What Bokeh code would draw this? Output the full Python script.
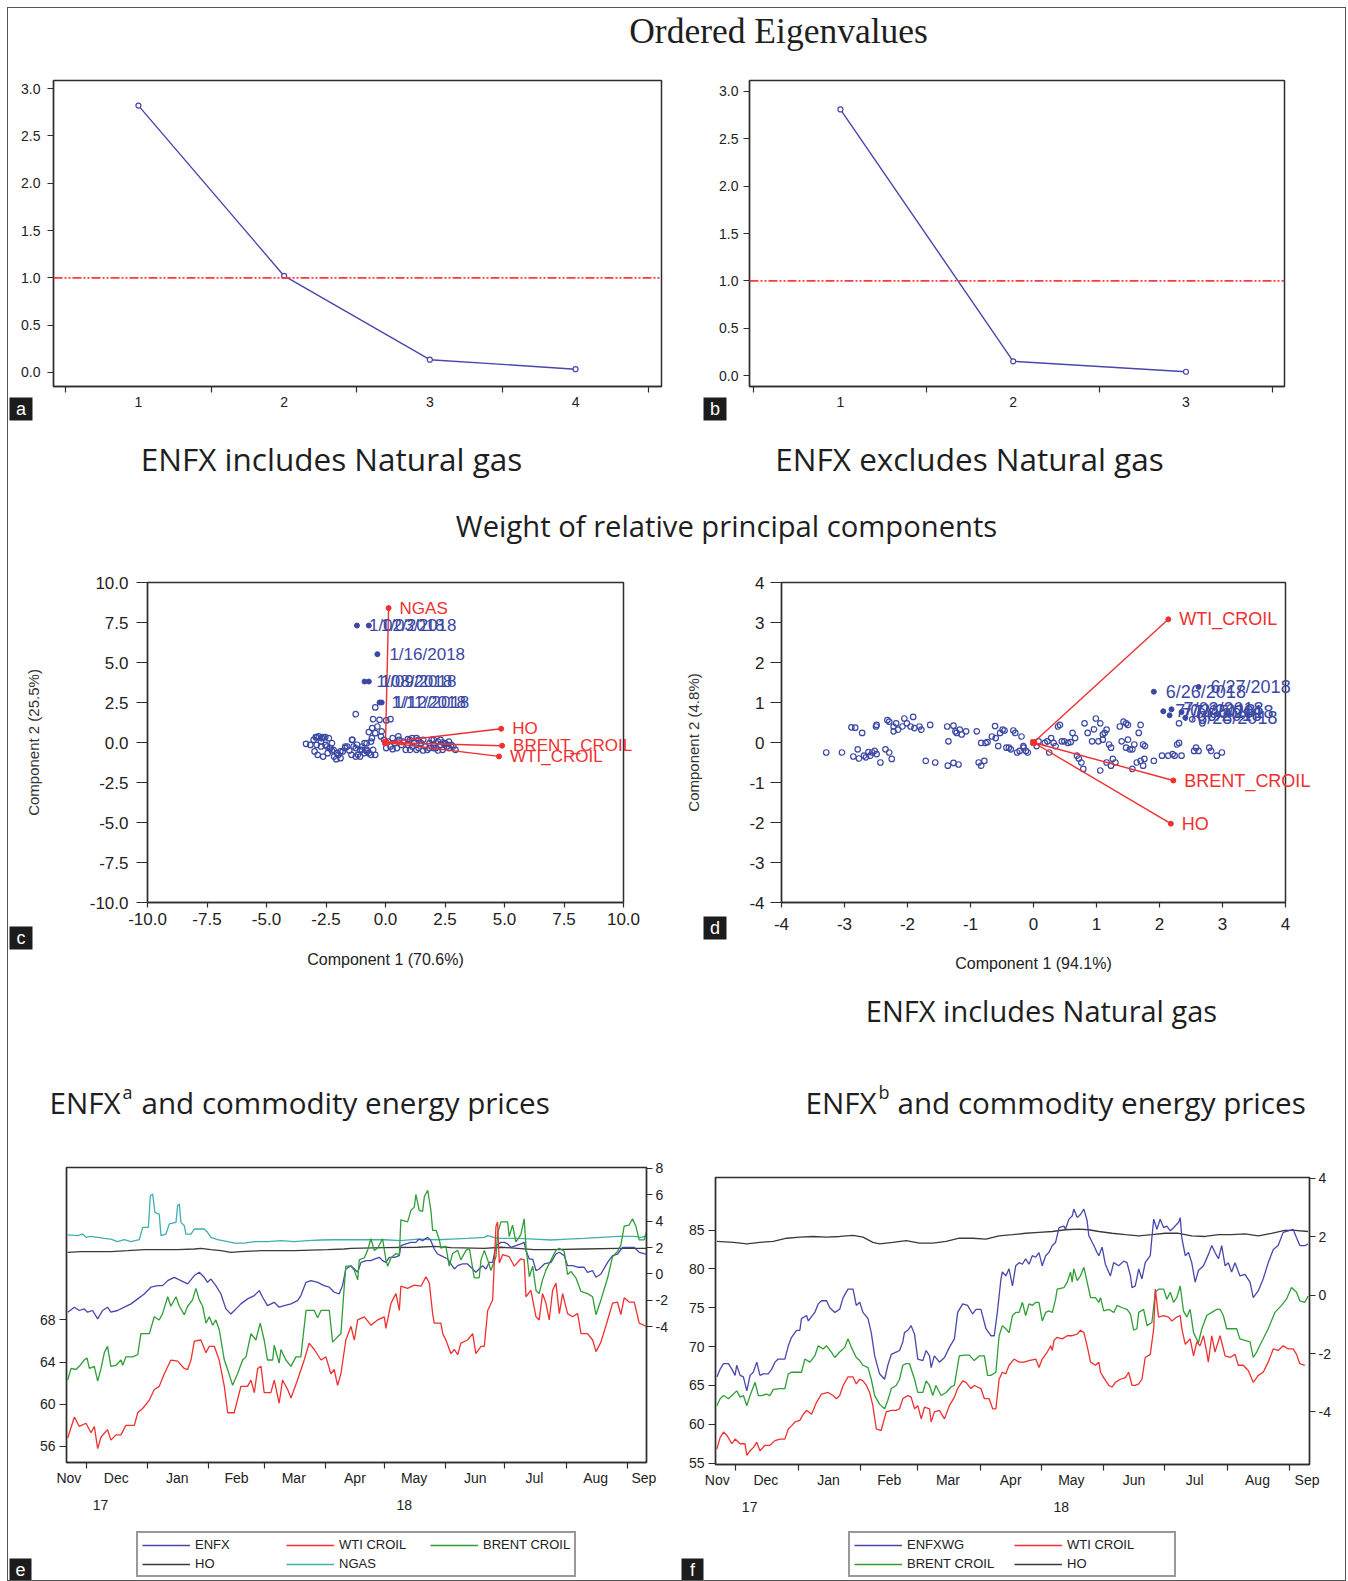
from bokeh.plotting import figure
from bokeh.layouts import column, row
from bokeh.models import (Range1d, LinearAxis, FixedTicker, ColumnDataSource,
                          Legend, LegendItem, Span, NumeralTickFormatter, Spacer)
from bokeh.embed import file_html
from bokeh.resources import INLINE
from bokeh.core.properties import value

FONT = "Liberation Sans"
HEAD_FONT = "Open Sans"
TITLE_FONT = "Liberation Serif"
INK = "#2e2e2e"
LINE_BLUE = "#4747ad"
SCAT_BLUE = "#3b48a3"
RED = "#f03030"
GREEN = "#2f9e36"
CYAN = "#3fb0ad"
BLACK = "#3a3a3a"
NAN = float("nan")

# ------------------------------------------------------------------ data
EIG_INCL_N = [1, 2, 3, 4]
EIG_INCL = [2.82, 1.02, 0.135, 0.035]
EIG_EXCL_N = [1, 2, 3]
EIG_EXCL = [2.81, 0.15, 0.04]
EIG_CUTOFF = 1.0
EIG_TICKS = [0.0, 0.5, 1.0, 1.5, 2.0, 2.5, 3.0]

C_VARS = ["NGAS", "HO", "BRENT_CROIL", "WTI_CROIL"]
C_LOAD_X = [0.13, 4.86, 4.90, 4.77]
C_LOAD_Y = [8.40, 0.86, -0.20, -0.87]
C_SCORES = [
    (-3.34, -0.08), (-3.16, -0.15), (-2.93, 0.33), (-2.80, 0.38), (-2.62, 0.33), (-2.38, 0.27),
    (-2.89, -0.15), (-2.71, -0.25), (-2.52, -0.15), (-2.34, -0.35), (-2.85, -0.77), (-2.62, -0.88),
    (-2.43, -0.67), (-2.25, -0.50), (-2.16, -0.88), (-2.07, -1.04), (-1.98, -0.77), (-2.71, 0.06),
    (-2.98, -0.56), (-2.25, -0.04), (-1.80, -0.56), (-1.70, -0.35), (-1.61, -0.25), (-1.52, -0.50),
    (-1.43, -0.77), (-1.34, -0.25), (-1.25, -0.35), (-1.16, -0.77), (-1.39, 0.17), (-1.07, -0.46),
    (-0.98, -0.25), (-0.88, -0.04), (-0.79, -0.46), (-0.70, -0.67), (-0.61, -0.77), (-0.52, -0.46),
    (-0.43, -0.77), (-0.88, -0.67), (-0.61, 0.06), (-0.79, -0.04), (-1.07, -0.88), (-1.25, -0.88),
    (-1.89, -0.98), (-3.02, 0.17), (-2.88, 0.34), (-2.67, 0.27), (-2.53, 0.34), (-2.46, -0.25),
    (-2.32, -0.35), (-2.18, -0.46), (-2.04, -0.66), (-1.90, -0.56), (-1.69, -0.25), (-1.41, 0.17),
    (-1.20, -0.14), (-0.99, -0.46), (-0.78, -0.56), (-0.57, 0.27),
    (-1.25, 1.77), (-0.43, 2.19), (-0.52, 1.46), (-0.25, 1.42), (0.03, 1.38), (0.21, 1.46),
    (-0.56, 0.90), (-0.43, 0.58), (-0.70, 0.65), (-0.34, 1.00), (-0.19, 0.38), (-0.16, 0.69),
    (-0.06, 0.17),
    (0.12, 0.06), (0.21, -0.25), (0.30, 0.27), (0.39, -0.04), (0.48, -0.35), (0.57, 0.17),
    (0.67, -0.15), (0.76, 0.06), (0.85, -0.46), (0.94, -0.15), (1.03, 0.17), (1.12, -0.25),
    (1.21, 0.00), (1.30, 0.27), (1.39, -0.35), (1.49, -0.04), (1.58, 0.17), (1.67, -0.25),
    (1.76, -0.46), (1.85, -0.04), (1.94, 0.17), (2.03, -0.15), (2.12, -0.35), (2.21, 0.06),
    (2.31, -0.15), (2.40, -0.46), (2.49, -0.04), (2.58, -0.25), (2.67, 0.06), (2.76, -0.15),
    (2.85, -0.25), (2.94, -0.46), (0.54, 0.38), (0.94, 0.21), (2.03, 0.17), (1.30, -0.46),
    (1.58, -0.50), (2.21, -0.50), (1.85, -0.35), (0.30, -0.42), (1.03, -0.46), (2.40, 0.00),
    (2.67, -0.35), (2.54, -0.08), (0.03, -0.35), (1.39, 0.17), (1.12, 0.27), (2.03, -0.35),
    (2.31, 0.17),
]
C_OUTLIERS = [
    (-1.20, 7.31, "1/02/2018"), (-0.70, 7.31, "1/03/2018"), (-0.34, 5.52, "1/16/2018"),
    (-0.88, 3.81, "1/08/2018"), (-0.70, 3.81, "1/09/2018"), (-0.25, 2.50, "1/11/2018"),
    (-0.16, 2.50, "1/12/2018"),
]

D_VARS = ["WTI_CROIL", "BRENT_CROIL", "HO"]
D_LOAD_X = [2.14, 2.22, 2.18]
D_LOAD_Y = [3.08, -0.95, -2.03]
D_SCORES = [
    (-3.29, -0.25), (-3.04, -0.25), (-2.89, 0.38), (-2.83, 0.37), (-2.86, -0.35), (-2.77, -0.40),
    (-2.72, 0.24), (-2.79, -0.17), (-2.62, -0.24), (-2.59, -0.33), (-2.56, -0.25), (-2.52, -0.21),
    (-2.49, -0.29), (-2.66, -0.37), (-2.69, -0.33), (-2.50, 0.40), (-2.49, 0.44), (-2.35, -0.17),
    (-2.29, -0.25), (-2.25, -0.41), (-2.43, -0.50), (-2.32, 0.56), (-2.29, 0.52), (-2.22, 0.40),
    (-2.18, 0.48), (-2.15, 0.32), (-2.08, 0.40), (-2.05, 0.60), (-2.01, 0.48), (-1.95, 0.40),
    (-1.91, 0.64), (-2.22, 0.28), (-1.89, 0.36), (-1.81, 0.40), (-1.78, 0.32), (-1.64, 0.44),
    (-1.71, -0.46), (-1.56, -0.50), (-1.37, 0.40), (-1.35, 0.03), (-1.27, 0.42), (-1.24, 0.28),
    (-1.22, 0.24), (-1.17, 0.32), (-1.14, 0.20), (-1.07, 0.28), (-1.36, -0.58), (-1.27, -0.51),
    (-1.19, -0.55), (-0.90, 0.28), (-0.87, -0.50), (-0.83, -0.58), (-0.78, -0.46), (-0.76, -0.01),
    (-0.83, -0.01), (-0.73, 0.01), (-0.66, 0.15), (-0.60, 0.11), (-0.61, 0.41), (-0.56, -0.09),
    (-0.53, 0.24), (-0.49, 0.32), (-0.46, 0.30), (-0.43, -0.13), (-0.39, -0.13), (-0.36, -0.17),
    (-0.32, 0.30), (-0.29, 0.24), (-0.26, -0.25), (-0.22, -0.21), (-0.19, 0.15), (-0.16, -0.13),
    (-0.12, -0.21), (-0.09, -0.25), (-0.16, -0.09),
    (0.05, -0.09), (0.08, 0.03), (0.18, -0.01), (0.22, 0.03), (0.25, -0.25), (0.28, 0.11),
    (0.32, -0.01), (0.35, -0.09), (0.39, 0.40), (0.42, 0.44), (0.45, 0.03), (0.49, 0.03),
    (0.55, -0.01), (0.59, 0.01), (0.62, 0.24), (0.66, 0.11), (0.69, -0.33), (0.72, -0.40),
    (0.76, -0.50), (0.79, -0.66), (0.81, 0.48), (0.86, 0.24), (0.93, 0.03), (0.96, 0.33),
    (0.99, 0.60), (1.03, 0.03), (1.06, 0.48), (1.10, 0.20), (1.13, 0.24), (1.10, 0.07),
    (1.16, 0.32), (1.20, -0.05), (1.23, -0.13), (1.16, -0.50), (1.23, -0.58), (1.06, -0.70),
    (1.26, -0.41), (1.30, -0.50), (1.37, 0.40), (1.40, 0.03), (1.43, 0.52), (1.47, -0.13),
    (1.50, 0.07), (1.53, -0.17), (1.57, -0.17), (1.60, -0.05), (1.67, 0.24), (1.70, 0.44),
    (1.74, -0.05), (1.77, -0.09), (1.57, -0.66), (1.64, -0.50), (1.70, -0.46), (1.76, -0.41),
    (1.74, -0.58), (1.47, 0.48), (1.50, 0.44), (1.91, -0.46), (2.04, -0.33), (2.14, -0.33),
    (2.21, -0.29), (2.24, -0.33), (2.28, -0.05), (2.31, -0.01), (2.35, -0.33), (2.31, 0.48),
    (2.55, -0.21), (2.58, -0.13), (2.62, -0.21), (2.68, 0.48), (2.79, -0.13), (2.82, -0.21),
    (2.91, -0.33), (2.99, -0.25), (2.52, 0.58),
]
D_OUTLIERS = [
    (1.91, 1.27, "6/26/2018"), (2.62, 1.39, "6/27/2018"), (2.06, 0.78, "7/02/2018"),
    (2.19, 0.83, "7/03/2018"), (2.35, 0.76, "7/05/2018"), (2.16, 0.68, "7/06/2018"),
    (2.41, 0.62, "6/28/2018"),
]

# time axis: days since 2017-11-21
MONTHS = ["Nov", "Dec", "Jan", "Feb", "Mar", "Apr", "May", "Jun", "Jul", "Aug", "Sep"]
MONTH_LABEL_DAY = [1, 25, 56, 86, 115, 146, 176, 207, 237, 268, 292.5]
MONTH_START_DAY = [10, 41, 72, 100, 131, 161, 192, 222, 253, 284]
YEARS = ["17", "18"]
YEAR_LABEL_DAY = [17, 171]

E_WTI = [(0.4, 56.8), (3.8, 58.8), (6.3, 57.9), (9.7, 58.2), (12.2, 57.3), (13.9, 57.9), (15.6, 55.8),
         (17.3, 56.9), (20.6, 57.6), (22.3, 56.6), (24.9, 57.1), (27.4, 57.1), (29.9, 58.0), (34.2, 58.0),
         (35.9, 59.2), (38.4, 59.6), (41.8, 60.4), (44.3, 61.4), (46.8, 61.7), (49.4, 62.9), (52.7, 64.2),
         (56.1, 64.1), (59.5, 63.4), (61.2, 63.3), (62.9, 64.2), (64.6, 66.0), (67.9, 66.1), (70.5, 64.9),
         (72.2, 65.5), (74.7, 65.5), (77.2, 64.2), (79.8, 61.7), (81.5, 59.2), (84.8, 59.2), (88.2, 61.7),
         (91.6, 61.7), (93.3, 62.3), (95.0, 61.1), (96.7, 63.4), (98.4, 63.6), (100.0, 61.1), (103.4, 61.1),
         (105.1, 62.3), (107.6, 60.1), (109.3, 62.3), (111.9, 61.4), (113.6, 60.6), (116.9, 62.3),
         (120.3, 64.2), (122.8, 65.8), (125.4, 65.2), (128.8, 64.2), (131.3, 64.5), (133.8, 62.9),
         (135.5, 63.3), (137.2, 61.8), (138.9, 62.9), (141.4, 66.1), (144.0, 67.4), (145.7, 66.1),
         (147.4, 68.0), (150.8, 68.3), (154.1, 67.5), (157.5, 68.0), (160.9, 68.3), (161.7, 67.2),
         (164.3, 69.6), (166.8, 70.5), (168.5, 68.9), (169.3, 71.2), (172.7, 71.0), (176.1, 71.3),
         (179.5, 71.2), (182.0, 72.1), (183.7, 71.5), (185.4, 68.6), (186.2, 67.7), (189.6, 67.7),
         (190.5, 66.7), (192.1, 66.1), (194.7, 64.8), (196.4, 65.2), (198.1, 64.7), (199.7, 65.8),
         (203.1, 66.1), (205.7, 66.7), (207.3, 64.8), (209.9, 65.5), (211.6, 65.5), (213.3, 68.9),
         (215.8, 69.9), (217.5, 76.9), (218.3, 77.3), (219.2, 73.4), (220.9, 74.2), (224.2, 74.0),
         (226.8, 73.1), (230.1, 73.8), (231.8, 73.7), (232.7, 70.2), (235.2, 70.8), (237.8, 68.3),
         (239.4, 68.0), (241.1, 70.5), (242.8, 69.6), (244.5, 68.0), (246.2, 70.8), (247.9, 71.5),
         (249.6, 68.6), (251.3, 70.5), (253.8, 68.6), (256.3, 68.3), (258.9, 68.6), (260.6, 66.7),
         (263.9, 66.7), (266.5, 66.1), (268.2, 65.0), (270.7, 65.9), (274.1, 68.0), (276.6, 69.6),
         (279.1, 69.7), (280.8, 68.5), (282.5, 70.1), (285.0, 69.7), (287.6, 69.7), (290.1, 67.7),
         (293.5, 67.4)]
E_BRENT = [(0.4, 62.3), (2.1, 63.4), (4.6, 63.3), (6.3, 63.6), (8.8, 64.2), (10.2, 64.4), (11.4, 63.4),
           (13.9, 63.6), (15.6, 62.2), (17.3, 63.4), (19.0, 64.9), (20.6, 65.5), (22.3, 63.6), (24.9, 63.7),
           (27.4, 64.2), (28.3, 63.7), (29.9, 64.5), (33.3, 64.5), (35.9, 64.7), (37.5, 66.7), (41.8, 66.7),
           (44.3, 68.3), (46.8, 68.0), (48.5, 68.6), (51.1, 70.2), (52.7, 69.3), (55.3, 70.2), (57.0, 69.3),
           (59.5, 68.5), (61.2, 69.3), (63.7, 69.9), (65.4, 71.0), (67.1, 69.9), (68.8, 69.3), (70.5, 67.7),
           (72.2, 68.3), (73.9, 67.5), (75.5, 68.0), (77.2, 67.1), (79.8, 64.2), (81.5, 63.3), (84.0, 61.8),
           (86.5, 62.9), (89.1, 64.2), (90.8, 64.5), (93.3, 66.7), (95.8, 66.1), (98.0, 67.7), (100.0, 66.1),
           (101.7, 64.2), (104.3, 64.2), (105.1, 65.6), (107.6, 63.9), (108.5, 65.2), (111.0, 64.2),
           (113.6, 63.6), (116.1, 64.5), (118.6, 64.5), (121.2, 68.9), (125.4, 68.9), (127.1, 68.2),
           (128.8, 68.9), (133.0, 68.9), (134.7, 65.9), (137.2, 66.4), (138.9, 66.7), (140.6, 71.2),
           (141.4, 73.1), (144.0, 73.1), (145.7, 72.7), (147.4, 71.8), (148.2, 73.7), (150.8, 73.9),
           (152.4, 74.6), (154.1, 75.7), (155.8, 74.6), (157.5, 74.8), (160.0, 75.7), (161.7, 73.7),
           (162.6, 73.1), (164.3, 73.9), (166.8, 74.3), (168.5, 74.2), (169.3, 77.5), (172.7, 77.3),
           (174.4, 78.4), (176.1, 78.7), (176.9, 79.9), (178.6, 78.4), (180.3, 78.3), (181.2, 79.7),
           (182.9, 80.3), (184.5, 78.4), (185.4, 76.5), (187.1, 76.5), (188.8, 75.6), (189.6, 74.8),
           (192.1, 75.0), (193.8, 73.1), (195.5, 74.3), (198.1, 74.6), (199.7, 73.7), (202.3, 74.6),
           (204.0, 74.8), (206.5, 72.0), (209.0, 72.0), (209.9, 73.7), (211.6, 74.6), (213.3, 73.7),
           (214.9, 72.7), (217.5, 74.0), (218.3, 76.2), (220.0, 77.3), (223.4, 77.3), (224.2, 75.9),
           (225.9, 77.0), (227.6, 75.4), (230.1, 76.1), (231.8, 77.6), (232.7, 75.0), (234.4, 72.1),
           (236.1, 73.1), (237.8, 70.8), (239.4, 70.5), (241.1, 71.8), (242.8, 72.7), (245.4, 73.7),
           (247.9, 74.6), (249.6, 74.8), (252.1, 74.5), (253.8, 72.3), (255.5, 72.6), (258.0, 72.0),
           (260.6, 70.7), (263.9, 70.5), (266.5, 70.2), (268.2, 68.5), (270.7, 69.9), (274.1, 72.0),
           (276.6, 74.0), (279.1, 74.5), (280.8, 75.1), (282.5, 76.9), (285.0, 77.0), (286.7, 77.6),
           (288.4, 76.9), (290.1, 75.6), (292.6, 75.6), (294.3, 76.7)]
E_ENFX = [(0.4, -2.89), (3.8, -2.51), (6.3, -2.76), (8.8, -2.64), (10.5, -2.89), (13.0, -2.76), (15.6, -3.39),
          (18.1, -2.76), (20.6, -2.51), (22.3, -2.89), (25.7, -2.76), (29.1, -2.51), (32.5, -2.26),
          (35.9, -1.88), (39.2, -1.51), (42.6, -1.00), (46.0, -0.88), (48.5, -0.88), (51.1, -0.50),
          (54.4, -0.25), (57.8, -0.50), (61.2, -0.75), (64.6, -0.12), (67.1, 0.13), (69.6, -0.25),
          (71.3, -0.63), (73.0, -0.38), (75.5, -0.88), (78.1, -1.51), (80.6, -2.64), (83.1, -3.02),
          (85.7, -2.64), (88.2, -2.26), (91.6, -1.88), (95.0, -1.63), (97.5, -1.26), (99.2, -1.76),
          (101.7, -2.39), (105.1, -2.14), (107.6, -2.51), (110.2, -2.39), (113.6, -2.26), (116.9, -2.01),
          (118.6, -1.63), (121.2, -0.63), (123.7, -0.50), (127.1, -0.63), (130.4, -0.88), (133.0, -1.00),
          (135.5, -1.38), (138.0, -1.51), (139.7, -0.88), (141.4, 0.38), (144.0, 0.63), (147.4, 0.13),
          (149.1, 0.88), (151.6, 1.01), (154.1, 1.01), (155.8, 1.13), (158.4, 1.26), (160.0, 1.01),
          (161.7, 0.88), (163.4, 1.26), (166.0, 1.26), (168.5, 1.39), (169.3, 2.14), (171.9, 2.27),
          (174.4, 2.39), (176.9, 2.39), (178.6, 2.64), (180.3, 2.52), (182.9, 2.77), (184.5, 2.52),
          (186.2, 1.89), (187.9, 1.51), (189.6, 1.39), (193.0, 1.13), (196.4, 0.38), (198.1, 0.63),
          (200.6, 0.76), (203.1, 0.76), (205.7, 0.38), (207.3, 0.13), (209.0, 0.38), (210.7, 0.63),
          (212.4, 0.38), (214.1, 0.88), (215.8, 0.88), (217.5, 2.14), (220.0, 2.39), (221.7, 2.39),
          (223.4, 2.27), (225.1, 2.01), (227.6, 2.14), (230.1, 2.27), (231.8, 2.39), (232.7, 1.76),
          (234.4, 1.13), (236.1, 1.13), (237.8, 0.25), (239.4, 0.38), (242.0, 0.76), (245.4, 0.88),
          (247.9, 1.51), (249.6, 1.64), (252.1, 1.39), (253.8, 0.63), (256.3, 0.63), (258.9, 0.51),
          (262.2, 0.51), (263.9, 0.13), (266.5, 0.25), (268.2, -0.25), (270.7, 0.00), (274.1, 0.88),
          (276.6, 1.39), (279.1, 1.51), (281.7, 2.01), (284.2, 2.01), (287.6, 2.01), (290.1, 1.64),
          (293.5, 1.51)]
E_HO = [(0.4, 1.64), (7.1, 1.69), (13.9, 1.69), (22.3, 1.69), (30.8, 1.76), (39.2, 1.84), (47.7, 1.84),
        (56.1, 1.84), (64.6, 1.89), (67.9, 1.94), (73.0, 1.84), (78.1, 1.76), (83.1, 1.64), (88.2, 1.69),
        (98.4, 1.76), (115.2, 1.76), (132.1, 1.84), (140.6, 1.89), (144.0, 1.94), (160.9, 1.99),
        (177.8, 2.02), (186.2, 2.09), (194.7, 1.99), (211.6, 1.94), (220.0, 2.02), (228.5, 1.94),
        (236.9, 1.84), (245.4, 1.84), (262.2, 1.89), (279.1, 1.94), (294.3, 1.94)]
E_NGAS = [(0.4, 2.95), (5.4, 2.90), (8.0, 3.02), (9.7, 2.77), (12.2, 2.85), (15.6, 2.77), (19.0, 2.69),
          (22.3, 2.64), (25.7, 2.44), (29.1, 2.59), (32.5, 2.44), (36.7, 2.59), (38.4, 3.52), (41.3, 3.52),
          (42.3, 5.91), (43.5, 6.04), (44.6, 4.66), (46.8, 4.53), (47.7, 2.90), (50.2, 3.02), (51.9, 3.78),
          (55.3, 3.90), (56.1, 5.16), (57.0, 5.29), (57.8, 3.90), (59.5, 3.65), (60.3, 3.02), (62.9, 3.02),
          (64.6, 3.40), (69.6, 3.40), (71.3, 3.15), (73.0, 2.77), (76.4, 2.59), (81.5, 2.44), (84.8, 2.34),
          (89.9, 2.34), (95.0, 2.44), (101.7, 2.44), (108.5, 2.52), (115.2, 2.44), (122.0, 2.52),
          (128.8, 2.57), (135.5, 2.59), (142.3, 2.59), (160.9, 2.59), (169.3, 2.52), (177.8, 2.64),
          (187.9, 2.59), (194.7, 2.64), (203.1, 2.69), (211.6, 2.77), (213.3, 2.90), (218.3, 2.69),
          (228.5, 2.69), (236.9, 2.64), (245.4, 2.57), (253.8, 2.64), (262.2, 2.69), (270.7, 2.77),
          (279.1, 2.85), (287.6, 2.85), (291.0, 2.77), (294.3, 2.90)]

F_ENFXWG = [(0.8, 66.1), (2.4, 67.1), (4.1, 67.8), (6.5, 67.8), (8.2, 67.1), (9.8, 66.3), (10.6, 67.6),
            (12.3, 66.3), (13.9, 66.1), (15.6, 64.3), (17.2, 66.3), (18.8, 66.7), (20.5, 68.0), (22.1, 66.3),
            (23.8, 66.5), (26.2, 66.5), (27.9, 67.1), (29.5, 68.0), (31.1, 68.4), (34.4, 68.4), (36.1, 70.1),
            (37.7, 71.2), (40.2, 72.1), (41.8, 72.1), (42.6, 73.6), (45.1, 74.0), (46.0, 73.3), (49.2, 74.4),
            (50.9, 75.5), (52.5, 75.9), (55.0, 75.9), (56.6, 75.0), (59.1, 74.4), (61.5, 74.8), (63.2, 76.3),
            (65.6, 77.4), (68.1, 77.4), (69.7, 75.3), (71.4, 75.7), (73.0, 74.4), (75.5, 73.6), (77.1, 71.8),
            (78.8, 68.8), (81.2, 66.5), (83.7, 65.8), (85.3, 67.6), (87.0, 69.0), (89.4, 69.3), (91.1, 69.5),
            (92.7, 70.6), (93.5, 71.8), (95.2, 72.1), (96.8, 72.7), (98.5, 71.6), (100.1, 68.4),
            (102.6, 68.2), (104.2, 69.5), (105.9, 68.8), (106.7, 67.3), (108.3, 68.8), (110.8, 68.0),
            (113.3, 68.6), (115.7, 69.9), (118.2, 71.0), (119.8, 74.4), (122.3, 75.5), (124.7, 75.3),
            (127.2, 74.2), (128.9, 74.8), (131.3, 74.8), (133.8, 72.3), (136.2, 71.4), (137.9, 71.4),
            (139.5, 74.6), (141.2, 78.7), (141.9, 79.6), (143.6, 79.1), (145.2, 80.0), (146.9, 77.8),
            (148.5, 80.4), (150.2, 80.8), (151.8, 80.6), (153.4, 81.3), (155.1, 80.6), (156.7, 81.7),
            (158.4, 81.5), (160.0, 82.1), (161.6, 80.4), (163.3, 81.7), (164.9, 82.1), (166.6, 83.0),
            (168.2, 83.4), (169.9, 85.3), (172.3, 85.5), (173.1, 85.1), (174.8, 86.4), (176.4, 86.8),
            (177.2, 87.7), (178.9, 86.6), (180.5, 87.0), (182.2, 87.7), (183.8, 86.2), (184.6, 84.3),
            (187.1, 83.0), (188.7, 82.1), (189.6, 81.7), (191.2, 82.8), (192.8, 80.6), (195.3, 79.1),
            (196.9, 80.8), (199.4, 80.4), (201.9, 81.0), (203.5, 80.8), (205.2, 79.1), (206.0, 77.6),
            (207.6, 77.8), (209.3, 80.0), (210.9, 78.7), (212.5, 80.8), (215.0, 81.7), (215.8, 84.0),
            (216.7, 86.4), (218.3, 85.1), (219.9, 86.4), (221.6, 85.3), (223.2, 85.5), (224.9, 84.9),
            (226.5, 85.3), (229.0, 86.0), (229.8, 86.6), (230.6, 84.0), (232.3, 81.7), (233.9, 82.1),
            (235.5, 80.8), (237.2, 78.3), (238.8, 79.8), (241.3, 80.4), (243.8, 81.9), (245.4, 83.0),
            (247.0, 82.1), (248.7, 81.3), (250.3, 83.0), (252.0, 80.4), (253.6, 80.8), (255.2, 79.6),
            (256.9, 80.8), (259.3, 79.1), (261.8, 79.3), (264.3, 78.3), (265.9, 76.3), (268.4, 77.2),
            (270.8, 78.7), (273.3, 80.8), (275.8, 82.5), (278.2, 83.0), (280.7, 84.7), (283.2, 84.9),
            (285.6, 85.1), (287.3, 84.0), (288.9, 83.0), (291.4, 83.0), (293.0, 83.2)]
F_WTI = [(0.8, 56.8), (2.4, 58.3), (4.1, 59.0), (5.7, 58.6), (8.2, 57.5), (9.8, 58.1), (12.3, 57.5),
         (14.7, 57.5), (15.6, 56.0), (17.2, 56.6), (18.8, 57.0), (20.5, 57.7), (22.1, 56.6), (24.6, 57.3),
         (27.0, 57.3), (29.5, 57.9), (32.0, 58.1), (34.4, 58.1), (36.1, 59.4), (37.7, 59.8), (39.4, 60.3),
         (41.8, 60.5), (43.5, 61.3), (45.1, 61.8), (47.6, 61.3), (50.0, 62.8), (52.5, 63.9), (55.8, 64.1),
         (58.2, 63.7), (59.9, 63.3), (61.5, 63.7), (63.2, 65.0), (65.6, 66.1), (68.1, 66.1), (69.7, 65.2),
         (71.4, 65.8), (73.0, 65.6), (74.7, 65.0), (76.3, 64.1), (77.9, 62.4), (79.6, 59.4), (82.0, 59.2),
         (84.5, 61.6), (87.0, 61.8), (89.4, 61.8), (91.1, 62.0), (92.7, 63.3), (95.2, 63.7), (96.8, 63.5),
         (98.5, 62.0), (100.1, 62.4), (101.8, 60.7), (103.4, 62.2), (105.9, 62.0), (106.7, 60.3),
         (108.3, 61.6), (110.8, 61.8), (113.3, 60.7), (115.7, 62.4), (118.2, 63.5), (119.8, 64.6),
         (122.3, 65.6), (123.9, 65.4), (126.4, 64.6), (128.0, 65.0), (131.3, 64.6), (133.0, 63.3),
         (135.4, 63.3), (137.1, 62.0), (138.7, 62.0), (140.3, 65.8), (141.9, 66.7), (143.6, 66.5),
         (145.2, 67.6), (147.7, 68.4), (150.2, 68.0), (152.6, 68.0), (155.1, 68.2), (158.4, 68.4),
         (160.0, 67.3), (161.6, 68.4), (164.1, 69.3), (165.8, 70.1), (166.6, 69.5), (167.4, 70.8),
         (169.0, 71.2), (171.5, 71.0), (174.0, 71.4), (176.4, 71.4), (178.9, 71.6), (180.5, 72.1),
         (182.2, 71.8), (183.8, 70.1), (185.5, 68.0), (187.9, 67.6), (189.6, 68.0), (190.4, 66.7),
         (192.0, 66.0), (194.5, 65.0), (196.1, 64.8), (197.8, 65.4), (200.2, 65.8), (202.7, 66.0),
         (204.3, 66.7), (206.0, 65.0), (207.6, 65.0), (209.3, 65.2), (210.9, 65.8), (212.5, 68.6),
         (215.0, 69.0), (216.7, 72.3), (217.5, 77.4), (219.1, 73.8), (221.6, 74.0), (224.0, 73.8),
         (225.7, 73.3), (228.1, 73.8), (229.8, 74.0), (230.6, 72.3), (232.3, 70.3), (234.7, 71.0),
         (236.4, 68.8), (238.0, 70.6), (239.6, 70.1), (241.3, 71.4), (242.9, 69.3), (243.7, 68.0),
         (245.4, 71.4), (247.0, 69.3), (249.5, 71.4), (252.0, 68.8), (254.4, 68.6), (256.9, 69.0),
         (258.5, 67.6), (261.0, 67.6), (263.5, 66.9), (265.9, 65.4), (268.4, 66.3), (270.8, 66.7),
         (273.3, 68.0), (275.8, 69.7), (278.2, 69.5), (280.7, 70.1), (283.2, 69.7), (285.6, 69.7),
         (287.3, 69.0), (288.9, 67.8), (291.4, 67.6)]
F_BRENT = [(0.8, 62.4), (2.4, 63.3), (4.1, 63.7), (6.5, 63.3), (8.2, 63.7), (10.6, 64.3), (12.3, 63.5),
           (13.9, 63.7), (15.6, 62.4), (17.2, 63.7), (18.8, 64.8), (19.7, 65.4), (21.3, 63.7), (23.0, 63.7),
           (25.4, 63.9), (27.0, 63.7), (28.7, 64.5), (32.0, 64.6), (34.4, 64.6), (36.1, 66.5), (37.7, 66.7),
           (40.2, 66.7), (42.6, 66.7), (44.3, 68.4), (46.8, 68.0), (49.2, 68.8), (50.9, 70.1), (53.3, 69.7),
           (55.0, 70.1), (57.4, 69.3), (59.1, 68.6), (61.5, 69.3), (64.0, 69.9), (65.6, 71.0), (67.3, 69.9),
           (69.7, 68.6), (71.4, 68.2), (73.0, 67.6), (75.5, 67.3), (77.1, 65.8), (78.8, 63.7), (81.2, 62.6),
           (83.7, 62.0), (85.3, 63.1), (87.0, 64.6), (89.4, 65.0), (91.1, 65.8), (92.7, 67.6), (94.4, 67.8),
           (96.0, 67.8), (98.5, 65.8), (100.1, 64.1), (102.6, 64.1), (104.2, 65.6), (105.9, 65.0),
           (107.5, 63.7), (109.1, 65.0), (111.6, 63.7), (114.1, 64.1), (116.5, 64.8), (118.2, 65.0),
           (120.6, 68.8), (123.1, 68.9), (125.6, 68.9), (128.0, 68.2), (130.5, 68.8), (133.0, 68.8),
           (134.6, 66.3), (136.2, 66.3), (138.7, 66.7), (140.3, 71.4), (141.9, 72.7), (143.6, 72.3),
           (145.2, 71.8), (146.9, 74.0), (148.5, 74.4), (150.2, 74.4), (151.8, 75.7), (153.4, 74.0),
           (155.1, 75.5), (156.7, 75.3), (158.4, 75.7), (160.0, 75.7), (161.6, 73.3), (163.3, 74.4),
           (164.9, 74.6), (166.6, 74.4), (168.2, 76.1), (169.0, 77.4), (172.3, 77.6), (174.0, 78.3),
           (175.6, 79.6), (176.4, 78.3), (177.2, 80.0), (178.9, 78.5), (180.5, 79.1), (182.2, 80.2),
           (183.8, 78.3), (185.5, 76.3), (187.9, 76.3), (189.6, 75.7), (190.4, 76.3), (192.0, 74.6),
           (194.5, 74.8), (197.0, 74.4), (198.6, 75.3), (201.1, 75.0), (203.5, 74.8), (205.2, 74.2),
           (206.8, 72.1), (208.4, 72.3), (209.3, 74.4), (211.7, 74.8), (213.4, 72.7), (215.8, 73.1),
           (217.5, 77.0), (219.1, 77.4), (221.6, 77.4), (223.2, 76.1), (224.9, 77.0), (226.5, 75.7),
           (228.1, 76.3), (229.8, 77.8), (231.4, 74.6), (233.1, 73.8), (234.7, 74.8), (236.4, 71.8),
           (238.8, 70.5), (240.5, 72.3), (242.9, 74.0), (245.4, 74.4), (247.9, 74.8), (249.5, 74.8),
           (251.1, 74.0), (252.8, 72.3), (255.2, 72.3), (257.7, 72.3), (259.3, 71.0), (261.8, 70.8),
           (264.3, 70.6), (265.9, 68.6), (267.6, 69.3), (270.0, 70.6), (273.3, 72.3), (276.6, 74.4),
           (279.9, 75.3), (282.3, 76.1), (284.8, 77.6), (287.3, 77.0), (288.9, 75.9), (291.4, 75.7),
           (293.0, 76.5)]
F_HO = [(0.8, 1.84), (9.0, 1.81), (15.6, 1.76), (22.1, 1.81), (28.7, 1.84), (35.3, 1.95), (41.8, 1.99),
        (48.4, 2.01), (55.0, 1.99), (61.5, 2.01), (68.1, 2.05), (73.0, 1.99), (77.9, 1.81), (81.2, 1.76),
        (87.8, 1.81), (94.4, 1.87), (100.9, 1.78), (107.5, 1.78), (114.1, 1.84), (120.6, 1.95),
        (127.2, 1.95), (133.8, 1.92), (140.3, 2.03), (146.9, 2.07), (153.4, 2.12), (160.0, 2.15),
        (166.6, 2.18), (173.1, 2.24), (179.7, 2.26), (184.6, 2.24), (189.6, 2.18), (196.1, 2.12),
        (202.7, 2.07), (209.3, 2.03), (215.8, 2.07), (222.4, 2.12), (229.0, 2.12), (235.5, 2.03),
        (242.1, 2.01), (248.7, 2.07), (255.2, 2.07), (261.8, 2.10), (268.4, 2.03), (274.9, 2.12),
        (281.5, 2.22), (286.4, 2.22), (293.0, 2.18)]

E_LEFT_TICKS = [56, 60, 64, 68]
E_RIGHT_TICKS = [-4, -2, 0, 2, 4, 6, 8]
F_LEFT_TICKS = [55, 60, 65, 70, 75, 80, 85]
F_RIGHT_TICKS = [-4, -2, 0, 2, 4]

E_LEGEND = [("ENFX", LINE_BLUE), ("WTI CROIL", RED), ("BRENT CROIL", GREEN), ("HO", BLACK), ("NGAS", CYAN)]
F_LEGEND = [("ENFXWG", LINE_BLUE), ("WTI CROIL", RED), ("BRENT CROIL", GREEN), ("HO", BLACK)]


def xs(pairs):
    return [a for a, _ in pairs]


def ys(pairs):
    return [b for _, b in pairs]


# ------------------------------------------------------------------ helpers
def make_fig(w, h, xr, yr, bl, br, bt, bb):
    p = figure(width=w, height=h, x_range=Range1d(*xr), y_range=Range1d(*yr),
               toolbar_location=None, output_backend="svg",
               min_border_left=bl, min_border_right=br, min_border_top=bt, min_border_bottom=bb)
    p.grid.visible = False
    p.outline_line_color = INK
    p.outline_line_width = 1.5
    p.background_fill_color = "white"
    p.border_fill_color = "white"
    p.tags = [w - bl - br, h - bt - bb]   # frame size in pixels
    return p


def style_axis(ax, size, tick_out, standoff):
    ax.axis_line_color = INK
    ax.axis_line_width = 1.3
    ax.major_tick_line_color = INK
    ax.major_tick_line_width = 1.2
    ax.major_tick_out = tick_out
    ax.major_tick_in = 0
    ax.minor_tick_line_color = None
    ax.major_label_text_font = FONT
    ax.major_label_text_font_size = size
    ax.major_label_text_color = "#222222"
    ax.major_label_standoff = standoff


def letter_box(p, letter, cx, cy, box):
    p.rect(x=[cx], y=[cy], width=box, height=box, width_units="screen", height_units="screen",
           fill_color="#1c1c1c", line_color=None, level="overlay")
    p.text(x=[cx], y=[cy], text=[letter], text_align="center", text_baseline="middle",
           text_color="white", text_font=value(FONT), text_font_size="18px", level="overlay")


def panel_letter(p, letter, dx_px, dy_px, box=23):
    """dx/dy: pixels from the frame's bottom-left corner"""
    fw, fh = p.tags
    xr, yr = p.x_range, p.y_range
    cx = xr.start + dx_px * (xr.end - xr.start) / fw
    cy = yr.start + dy_px * (yr.end - yr.start) / fh
    letter_box(p, letter, cx, cy, box)


def make_band(w, h, bl=0, br=0):
    p = figure(width=w, height=h, x_range=Range1d(bl, w - br), y_range=Range1d(h, 0),
               toolbar_location=None, output_backend="svg",
               x_axis_location=None, y_axis_location=None,
               min_border_left=bl, min_border_right=br, min_border_top=0, min_border_bottom=0)
    p.grid.visible = False
    p.outline_line_color = None
    return p


def band_text(p, x, y, s, size, font=HEAD_FONT, align="center"):
    p.text(x=[x], y=[y], text=[s], text_font=value(font), text_font_size=size,
           text_align=align, text_baseline="middle", text_color="#1e1e1e")


# ------------------------------------------------------------------ eigenvalue panels
def eigen_panel(ns, vals, w, h, borders, xr, yr, letter, tag_xy, x_standoff, y_standoff):
    bl, br, bt, bb = borders
    p = make_fig(w, h, xr, yr, bl, br, bt, bb)
    p.add_layout(Span(location=EIG_CUTOFF, dimension="width", line_color="#ff3a3a",
                      line_width=1.6, line_dash="9 2 2 2 2 2"))
    p.line(ns, vals, line_color=LINE_BLUE, line_width=1.4)
    p.scatter(ns, vals, marker="circle", size=5, fill_color="white", line_color=LINE_BLUE, line_width=1.2)
    xa = p.xaxis[0]
    style_axis(xa, "14px", 6, x_standoff)
    xa.ticker = FixedTicker(ticks=ns, minor_ticks=[n - 0.5 for n in ns] + [ns[-1] + 0.5])
    xa.major_tick_line_color = None
    xa.minor_tick_line_color = INK
    xa.minor_tick_line_width = 1.2
    xa.minor_tick_out = 6
    xa.minor_tick_in = 0
    ya = p.yaxis[0]
    style_axis(ya, "14px", 6, y_standoff)
    ya.ticker = FixedTicker(ticks=EIG_TICKS)
    ya.formatter = NumeralTickFormatter(format="0.0")
    panel_letter(p, letter, *tag_xy)
    return p


pa = eigen_panel(EIG_INCL_N, EIG_INCL, 668, 363, (45, 15, 18, 39), (0.417, 4.59), (-0.148, 3.085),
                 "a", (-32.5, -22.5), 4, 7)
pb = eigen_panel(EIG_EXCL_N, EIG_EXCL, 669, 363, (73, 61, 18, 39), (0.474, 3.57), (-0.116, 3.116),
                 "b", (-34.5, -22.5), 4, 5)


# ------------------------------------------------------------------ biplots
def biplot(w, h, borders, lim, ticks, fmt, tick_size, lab_size, names, lx, ly, scores, outliers,
           xlabel, ylabel, letter, tag_xy, ystand, xstand, ylab_stand, xlab_stand):
    bl, br, bt, bb = borders
    p = make_fig(w, h, (-lim, lim), (-lim, lim), bl, br, bt, bb)
    sc = ColumnDataSource(dict(x=xs(scores), y=ys(scores)))
    p.scatter("x", "y", source=sc, marker="circle", size=5.5, fill_color=None,
              line_color=SCAT_BLUE, line_width=1.2)
    ol = ColumnDataSource(dict(x=[o[0] for o in outliers], y=[o[1] for o in outliers],
                               t=[o[2] for o in outliers]))
    p.scatter("x", "y", source=ol, marker="circle", size=5, fill_color=SCAT_BLUE, line_color=SCAT_BLUE)
    p.text("x", "y", text="t", source=ol, x_offset=12, text_baseline="middle", text_align="left",
           text_font=value(FONT), text_font_size=lab_size, text_color=SCAT_BLUE, level="overlay")
    ld = ColumnDataSource(dict(x0=[0.0] * len(lx), y0=[0.0] * len(ly), x=lx, y=ly, n=names))
    p.segment("x0", "y0", "x", "y", source=ld, line_color=RED, line_width=1.4)
    p.scatter("x", "y", source=ld, marker="circle", size=5, fill_color=RED, line_color=RED)
    p.scatter("x0", "y0", source=ld, marker="square", size=5, fill_color=RED, line_color=RED)
    p.text("x", "y", text="n", source=ld, x_offset=11, text_baseline="middle", text_align="left",
           text_font=value(FONT), text_font_size=lab_size, text_color=RED, level="overlay")
    xa = p.xaxis[0]
    style_axis(xa, tick_size, 5, xstand)
    xa.ticker = FixedTicker(ticks=ticks)
    xa.axis_label = xlabel
    xa.axis_label_text_font = FONT
    xa.axis_label_text_font_size = "16px"
    xa.axis_label_text_font_style = "normal"
    xa.axis_label_text_color = "#222222"
    xa.axis_label_standoff = xlab_stand
    ya = p.yaxis[0]
    style_axis(ya, tick_size, 11, ystand)
    ya.ticker = FixedTicker(ticks=ticks)
    ya.axis_label = ylabel
    ya.axis_label_text_font = FONT
    ya.axis_label_text_font_size = "15px"
    ya.axis_label_text_font_style = "normal"
    ya.axis_label_text_color = "#333333"
    ya.axis_label_standoff = ylab_stand
    xa.formatter = NumeralTickFormatter(format=fmt)
    ya.formatter = NumeralTickFormatter(format=fmt)
    panel_letter(p, letter, *tag_xy)
    return p


C_TICKS = [-10.0, -7.5, -5.0, -2.5, 0.0, 2.5, 5.0, 7.5, 10.0]
D_TICKS = [-4, -3, -2, -1, 0, 1, 2, 3, 4]
pc = biplot(668, 430, (139, 53, 37, 73), 10, C_TICKS, "0.0", "17px", "17px", C_VARS, C_LOAD_X, C_LOAD_Y,
            C_SCORES, C_OUTLIERS, "Component 1 (70.6%)", "Component 2 (25.5%)", "c", (-126.5, -35.5),
            8, 5, 45, 23)
pd_ = biplot(669, 430, (105, 60, 37, 73), 4, D_TICKS, "0", "17px", "18px", D_VARS, D_LOAD_X, D_LOAD_Y,
             D_SCORES, D_OUTLIERS, "Component 1 (94.1%)", "Component 2 (4.8%)", "d", (-66.5, -25.5),
             6, 10, 44, 22)


# ------------------------------------------------------------------ time series panels
def ts_panel(w, h, borders, xr, yl, yr, lticks, rticks, left_series, right_series):
    bl, br, bt, bb = borders
    p = make_fig(w, h, xr, yl, bl, br, bt, bb)
    p.extra_y_ranges = {"r": Range1d(*yr)}
    for name, pairs, color in right_series:
        p.line(xs(pairs), ys(pairs), line_color=color, line_width=1.3, y_range_name="r")
    for name, pairs, color in left_series:
        p.line(xs(pairs), ys(pairs), line_color=color, line_width=1.3)
    xa = p.xaxis[0]
    style_axis(xa, "14px", 6, 1)
    xa.ticker = FixedTicker(ticks=MONTH_LABEL_DAY, minor_ticks=MONTH_START_DAY)
    xa.major_label_overrides = {d: m for d, m in zip(MONTH_LABEL_DAY, MONTHS)}
    xa.major_tick_line_color = None
    xa.minor_tick_line_color = INK
    xa.minor_tick_line_width = 1.2
    xa.minor_tick_out = 6
    xa.minor_tick_in = 0
    ya = p.yaxis[0]
    style_axis(ya, "14px", 7, 4)
    ya.ticker = FixedTicker(ticks=lticks)
    ra = LinearAxis(y_range_name="r")
    style_axis(ra, "14px", 6, 3)
    ra.ticker = FixedTicker(ticks=rticks)
    ra.formatter = NumeralTickFormatter(format="0")
    p.add_layout(ra, "right")
    yax = LinearAxis()
    style_axis(yax, "14px", 0, 11)
    yax.ticker = FixedTicker(ticks=YEAR_LABEL_DAY)
    yax.major_label_overrides = {d: s for d, s in zip(YEAR_LABEL_DAY, YEARS)}
    yax.axis_line_color = None
    yax.major_tick_line_color = None
    p.add_layout(yax, "below")
    return p


def legend_band(w, h, bl, br, entries, ncols, label_w, legend_left, letter, tag_c):
    # the band's frame lines up with the plot above it (left border bl, right border br)
    p = make_band(w, h, bl, br)
    items = []
    for name, color in entries:
        r = p.line(x=[NAN], y=[NAN], line_color=color, line_width=1.6)
        items.append(LegendItem(label=name, renderers=[r]))
    leg = Legend(items=items, location=(legend_left - bl, 3), orientation="horizontal", ncols=ncols,
                 label_text_font=FONT, label_text_font_size="13px", label_text_color="#222222",
                 glyph_width=48, glyph_height=14, label_height=14, label_width=label_w,
                 label_standoff=5, spacing=4, padding=4, margin=0,
                 border_line_color="#333333", border_line_width=2,
                 background_fill_color="white", background_fill_alpha=1.0)
    p.add_layout(leg)
    letter_box(p, letter, tag_c[0], tag_c[1], 22)
    return p


pe = ts_panel(668, 378, (58, 30, 17, 66), (-0.2, 293.8), (54.48, 82.46), (-14.25, 8.05),
              E_LEFT_TICKS, E_RIGHT_TICKS,
              [("BRENT CROIL", E_BRENT, GREEN), ("WTI CROIL", E_WTI, RED)],
              [("NGAS", E_NGAS, CYAN), ("HO", E_HO, BLACK), ("ENFX", E_ENFX, LINE_BLUE)])
pf = ts_panel(669, 378, (39, 36, 27, 64), (0.12, 293.7), (54.83, 91.76), (-5.80, 4.03),
              F_LEFT_TICKS, F_RIGHT_TICKS,
              [("ENFXWG", F_ENFXWG, LINE_BLUE), ("BRENT CROIL", F_BRENT, GREEN), ("WTI CROIL", F_WTI, RED)],
              [("HO", F_HO, BLACK)])
le = legend_band(668, 52, 58, 30, E_LEGEND, 3, 87, 128, "e", (12, 41))
lf = legend_band(669, 52, 39, 36, F_LEGEND, 2, 103, 172, "f", (16, 41))

# ------------------------------------------------------------------ heading bands
W = 1337
b0 = make_band(W, 54)
band_text(b0, 770, 22.5, "Ordered Eigenvalues", "35.5px", font=TITLE_FONT)

b2 = make_band(W, 120)
band_text(b2, 323, 33, "ENFX includes Natural gas", "31.5px")
band_text(b2, 961, 33, "ENFX excludes Natural gas", "31.5px")
band_text(b2, 718, 100, "Weight of relative principal components", "29.2px")

b4 = make_band(W, 175)
band_text(b4, 1033, 35, "ENFX includes Natural gas", "29px")
for x0, sup in ((41, "a"), (797, "b")):
    band_text(b4, x0, 127, "ENFX", "29.6px", align="left")
    band_text(b4, x0 + 73, 116, sup, "18px", align="left")
    band_text(b4, x0 + 92, 127, "and commodity energy prices", "29.6px", align="left")

inner = column(b0, row(pa, pb), b2, row(pc, pd_), b4,
               row(column(pe, le), column(pf, lf)),
               styles={"outline": "1px solid #555555"})
layout = column(Spacer(width=W + 8, height=8), row(Spacer(width=8, height=1572), inner))

open("out.html", "w").write(file_html(layout, INLINE))
